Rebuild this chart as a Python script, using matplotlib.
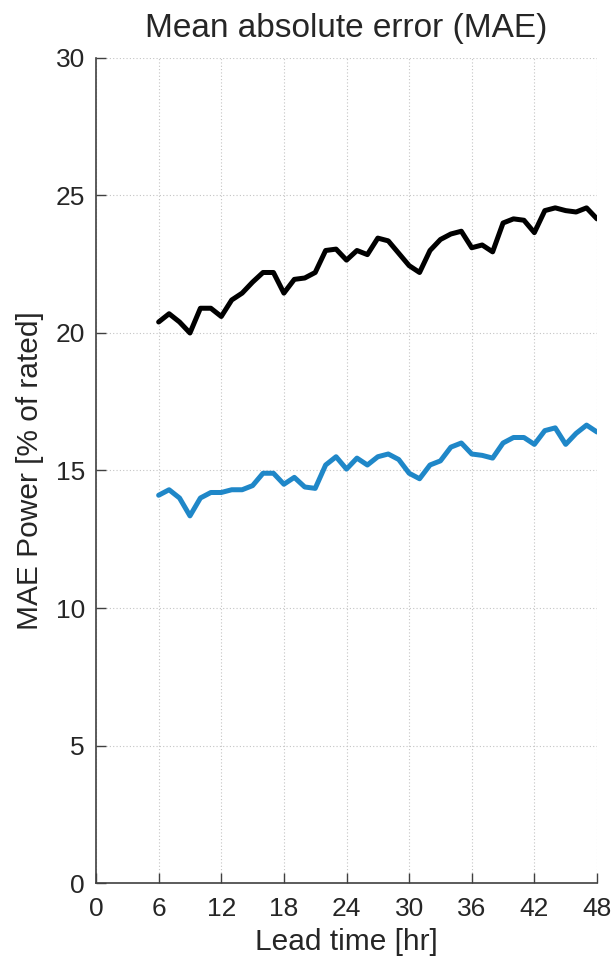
import matplotlib
matplotlib.use("Agg")
import matplotlib.pyplot as plt

# Forecast lead time in hours
lead_hr = list(range(6, 49))

# MAE of power forecast, % of rated capacity
mae_black = [20.4, 20.7, 20.4, 20.0, 20.9, 20.9, 20.6, 21.2, 21.45, 21.85,
             22.2, 22.2, 21.45, 21.95, 22.0, 22.2, 23.0, 23.05, 22.65, 23.0,
             22.85, 23.45, 23.35, 22.9, 22.45, 22.2, 23.0, 23.4, 23.6, 23.7,
             23.1, 23.2, 22.95, 24.0, 24.15, 24.1, 23.65, 24.45, 24.55, 24.45,
             24.4, 24.55, 24.15]
mae_blue = [14.1, 14.3, 14.0, 13.35, 14.0, 14.2, 14.2, 14.3, 14.3, 14.45,
            14.9, 14.9, 14.5, 14.75, 14.4, 14.35, 15.2, 15.5, 15.05, 15.45,
            15.2, 15.5, 15.6, 15.4, 14.9, 14.7, 15.2, 15.35, 15.85, 16.0,
            15.6, 15.55, 15.45, 16.0, 16.2, 16.2, 15.95, 16.45, 16.55, 15.95,
            16.35, 16.65, 16.4]

x_ticks = [0, 6, 12, 18, 24, 30, 36, 42, 48]
y_ticks = [0, 5, 10, 15, 20, 25, 30]

plt.rcParams['font.family'] = ['Liberation Sans', 'DejaVu Sans']
text_color = '#262626'

fig = plt.figure(figsize=(6.14, 9.6), dpi=100)
ax = fig.add_axes([0.1564, 0.0802, 0.8159, 0.8594])

ax.plot(lead_hr, mae_black, color='black', lw=3.6,
        solid_joinstyle='round', solid_capstyle='round')
ax.plot(lead_hr, mae_blue, color='#1f87c8', lw=3.6,
        solid_joinstyle='round', solid_capstyle='round')

ax.set_xlim(0, 48)
ax.set_ylim(0, 30)
ax.set_xticks(x_ticks)
ax.set_yticks(y_ticks)

ax.grid(True, color='#c4c4c4', linestyle=(0, (1, 2)), linewidth=0.8)
ax.set_axisbelow(True)

for side in ('top', 'right'):
    ax.spines[side].set_visible(False)
for side in ('left', 'bottom'):
    ax.spines[side].set_color('#404040')
    ax.spines[side].set_linewidth(1.2)

ax.tick_params(direction='in', length=7, width=1.0, colors='#404040',
               labelcolor=text_color, labelsize=19)
ax.tick_params(axis='x', pad=10)
ax.tick_params(axis='y', pad=8)

ax.set_title('Mean absolute error (MAE)', fontsize=24, color=text_color, pad=15)
ax.set_xlabel('Lead time [hr]', fontsize=21.5, color=text_color, labelpad=5)
ax.set_ylabel('MAE Power [% of rated]', fontsize=21.5, color=text_color, labelpad=8)

fig.savefig('out.png', dpi=100)
